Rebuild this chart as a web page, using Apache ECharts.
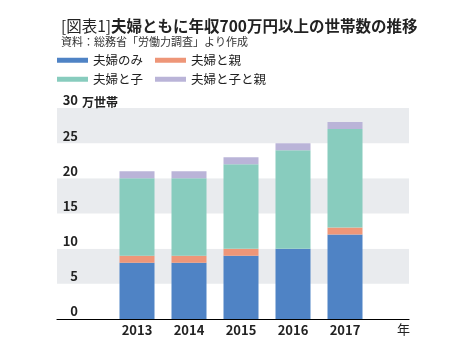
<!DOCTYPE html>
<html>
<head>
<meta charset="utf-8">
<script src="https://cdn.jsdelivr.net/npm/echarts@6/dist/echarts.min.js"></script>
<style>
  html, body { margin: 0; padding: 0; background: #fff; }
  #chart { width: 469px; height: 353px; }
</style>
</head>
<body>
<div id="chart"></div>
<script>
// data (万世帯)
var years = ['2013', '2014', '2015', '2016', '2017'];
var coupleOnly = [8, 8, 9, 10, 12];
var coupleParent = [1, 1, 1, 0, 1];
var coupleChild = [11, 11, 12, 14, 14];
var coupleChildParent = [1, 1, 1, 1, 1];
var seriesNames = ['夫婦のみ', '夫婦と親', '夫婦と子', '夫婦と子と親'];
var colors = ['#4f83c5', '#ee9678', '#88ccbe', '#bab4d8'];

var FONT = '"Noto Sans CJK JP", "Noto Sans", sans-serif';

var chart = echarts.init(document.getElementById('chart'));

function barSeries(i, values) {
  return {
    name: seriesNames[i],
    type: 'bar',
    stack: 'total',
    xAxisIndex: 1,
    yAxisIndex: 1,
    barWidth: 35,
    itemStyle: { color: colors[i] },
    emphasis: { disabled: true },
    data: values
  };
}

function legendRow(names, top) {
  return {
    data: names,
    left: 57, top: top,
    padding: 0,
    icon: 'rect', itemWidth: 31, itemHeight: 5, itemGap: 12,
    textStyle: { fontFamily: FONT, fontSize: 12.5, color: '#222' },
    selectedMode: false
  };
}

var option = {
  backgroundColor: '#fff',
  animation: false,
  textStyle: { fontFamily: FONT },
  title: {
    left: 56,
    top: 13,
    text: '{a|[図表1]}{b|夫婦ともに年収700万円以上の世帯数の推移}',
    textStyle: {
      rich: {
        a: { fontFamily: FONT, fontSize: 15.5, fontWeight: 'normal', color: '#222' },
        b: { fontFamily: FONT, fontSize: 15.5, fontWeight: 'bold', color: '#222' }
      }
    },
    subtext: '資料：総務省「労働力調査」より作成',
    subtextStyle: { fontFamily: FONT, fontSize: 11, color: '#333' },
    itemGap: 3
  },
  legend: [
    legendRow([seriesNames[0], seriesNames[1]], 54),
    legendRow([seriesNames[2], seriesNames[3]], 73)
  ],
  grid: [
    { left: 57, right: 60, top: 108, bottom: 34 },
    { left: 111, width: 260, top: 108, bottom: 34 }
  ],
  xAxis: [
    {
      gridIndex: 0,
      type: 'value',
      min: 0, max: 1,
      axisLine: { show: true, lineStyle: { color: '#000', width: 1.2 } },
      axisTick: { show: false },
      axisLabel: { show: false },
      splitLine: { show: false },
      name: '年',
      nameLocation: 'end',
      nameGap: -12,
      nameTextStyle: { fontFamily: FONT, fontSize: 13, color: '#222', align: 'left', verticalAlign: 'top', padding: [4, 0, 0, 0] }
    },
    {
      gridIndex: 1,
      type: 'category',
      data: years,
      axisLine: { show: false },
      axisTick: { show: false },
      axisLabel: { margin: 5, fontFamily: FONT, fontSize: 13, fontWeight: 'bold', color: '#222' }
    }
  ],
  yAxis: [
    {
      gridIndex: 0,
      type: 'value',
      min: 0, max: 30, interval: 5,
      axisLine: { show: false },
      axisTick: { show: false },
      splitLine: { show: false },
      splitArea: { show: true, areaStyle: { color: ['#ffffff', '#e9ebee'] } },
      axisLabel: {
        margin: -21, align: 'right', verticalAlign: 'bottom', padding: [0, 0, 1, 0],
        fontFamily: FONT, fontSize: 13, fontWeight: 'bold', color: '#222'
      },
      name: '万世帯',
      nameLocation: 'end',
      nameGap: 6,
      nameMoveOverlap: false,
      nameTextStyle: { fontFamily: FONT, fontSize: 12, fontWeight: 'bold', color: '#222', align: 'left', verticalAlign: 'middle', padding: [0, 0, 0, 25] }
    },
    {
      gridIndex: 1,
      type: 'value',
      min: 0, max: 30, interval: 5,
      show: false
    }
  ],
  series: [
    barSeries(0, coupleOnly),
    barSeries(1, coupleParent),
    barSeries(2, coupleChild),
    barSeries(3, coupleChildParent)
  ]
};

chart.setOption(option);
</script>
</body>
</html>
